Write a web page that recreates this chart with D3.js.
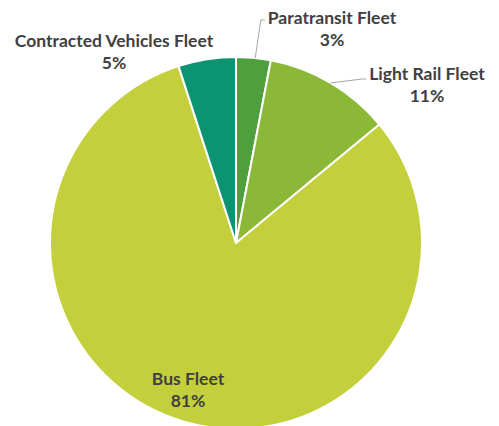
<!DOCTYPE html>
<html>
<head>
<meta charset="utf-8">
<script src="https://cdn.jsdelivr.net/npm/d3@7"></script>
<style>
  html, body { margin: 0; padding: 0; background: #ffffff; }
  svg { display: block; }
  .lbl { font-family: Lato, "Open Sans", sans-serif; font-weight: 700; fill: #404040; }
</style>
</head>
<body>
<svg id="chart" width="499" height="426"></svg>
<script>
// Fleet composition (share of vehicles, %)
const categories = ["Paratransit Fleet", "Light Rail Fleet", "Bus Fleet", "Contracted Vehicles Fleet"];
const shares = [3, 11, 81, 5];
const colors = ["#4f9f3e", "#8bb937", "#c3d03b", "#0b9372"];

const width = 499, height = 426;
const cx = 236, cy = 243, radius = 186;

const svg = d3.select("#chart");
const g = svg.append("g").attr("transform", `translate(${cx},${cy})`);

const pie = d3.pie().sort(null).value(d => d.value);
const arcs = pie(categories.map((c, i) => ({ name: c, value: shares[i], color: colors[i] })));
const arc = d3.arc().innerRadius(0).outerRadius(radius);

g.selectAll("path.slice")
  .data(arcs)
  .join("path")
  .attr("class", "slice")
  .attr("d", arc)
  .attr("fill", d => d.data.color)
  .attr("stroke", "#ffffff")
  .attr("stroke-width", 2)
  .attr("stroke-linejoin", "round");

// Label placement (baseline of first line, relative to the pie centre) and leader lines
const labelPlacement = [
  { x: 96, y: -219, leader: true, leaderDy: -4, rimFrac: 0.55 },
  { x: 191, y: -163, leader: true, leaderDy: -1, rimFrac: 0.5 },
  { x: -48, y: 142, leader: false },
  { x: -122, y: -196, leader: false }
];

const fontSize = 17.5;
const lineGap = 22;

arcs.forEach((a, i) => {
  const p = labelPlacement[i];
  const t = g.append("text")
    .attr("class", "lbl")
    .attr("text-anchor", "middle")
    .attr("font-size", fontSize)
    .attr("x", p.x)
    .attr("y", p.y);
  t.append("tspan").attr("x", p.x).text(a.data.name);
  t.append("tspan").attr("x", p.x).attr("dy", lineGap).text(Math.round(a.data.value) + "%");

  if (p.leader) {
    // Leader line: from the label's left edge to a point on the slice's rim
    const bb = t.node().getBBox();
    const lx = bb.x - 3;
    const ly = p.y + p.leaderDy;
    const ang = a.startAngle + (a.endAngle - a.startAngle) * p.rimFrac;
    const rx = Math.sin(ang) * radius;
    const ry = -Math.cos(ang) * radius;
    g.append("path")
      .attr("d", d3.line()([[lx, ly], [lx - 4, ly], [rx, ry]]))
      .attr("fill", "none")
      .attr("stroke", "#a6a6a6")
      .attr("stroke-width", 1);
  }
});
</script>
</body>
</html>
